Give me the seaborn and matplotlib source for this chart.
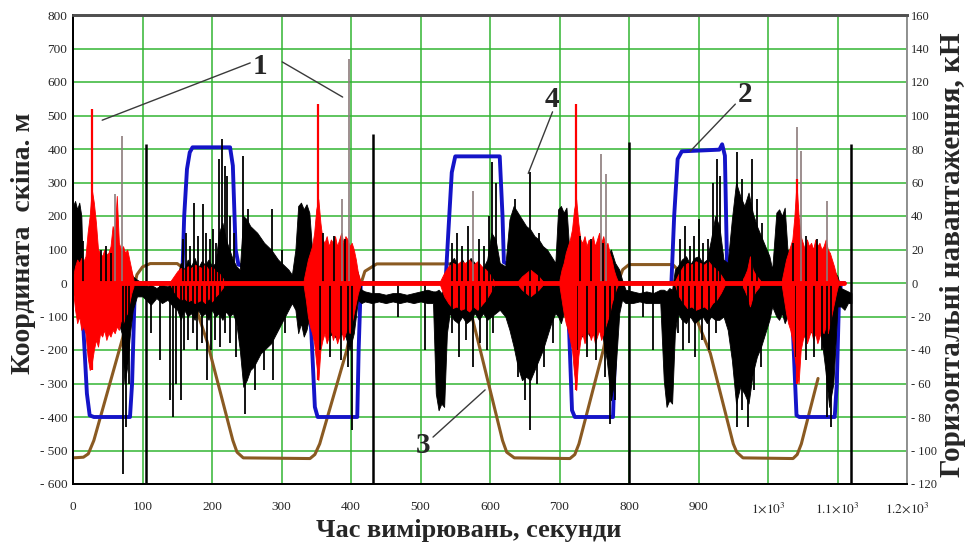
import matplotlib
matplotlib.use("Agg")
import matplotlib.pyplot as plt
import seaborn as sns
import pandas as pd

# ---------------- data ----------------
# 2: skip coordinate, m (left axis)
blue_x = [0, 10, 14, 20, 24, 30, 82, 85, 89, 95, 157, 160, 164, 168, 172, 226, 230, 234, 238, 246, 250, 256, 262,
          338, 343, 348, 352, 409, 411, 414, 418, 536, 540, 545, 550, 614, 618, 620, 628, 632, 638,
          710, 714, 718, 722, 777, 780, 783, 790, 861, 865, 870, 876, 930, 934, 938, 941, 950, 954, 958,
          1033, 1037, 1041, 1045, 1096, 1099, 1102, 1105, 1110]
blue_y = [0, 0, -100, -330, -395, -400, -400, -300, -10, 0, 0, 200, 340, 390, 405, 405, 350, 100, 55, 50, 25, 5, 0,
          0, -150, -370, -400, -400, -200, -5, 0, 0, 150, 330, 378, 378, 200, 62, 55, 20, 0,
          0, -150, -380, -400, -400, -200, -5, 0, 0, 200, 370, 393, 398, 414, 380, 61, 50, 30, 0,
          0, -200, -395, -400, -400, -300, -60, 0, 0]

# 3: second skip coordinate, m (left axis)
brown_x = [0, 15, 22, 30, 72, 85, 92, 100, 111, 150, 158, 165, 193, 230, 236, 245, 341, 348, 355, 394, 410, 420,
           437, 548, 556, 562, 586, 618, 624, 635, 715, 722, 728, 763, 780, 791, 800, 863, 870, 876, 917, 950,
           955, 964, 1036, 1042, 1048, 1072]
brown_y = [-522, -520, -510, -470, -160, -40, 25, 48, 58, 58, 45, 0, -175, -470, -505, -522, -524, -512, -480,
           -200, -30, 35, 57, 57, 40, 0, -200, -470, -505, -522, -524, -512, -480, -200, -20, 40, 55, 55, 40, 0,
           -210, -480, -505, -522, -524, -512, -480, -285]

# 4: horizontal load, kN (right axis) - dense core of the black trace
black_x = [0, 3, 6, 9, 12, 14, 20, 28, 36, 44, 52, 60, 66, 70, 74, 78, 82, 86, 92, 100,
           105, 112, 120, 128, 136, 144, 150,
           155, 160, 165, 170, 175, 180, 185, 190, 195, 200, 205, 210, 215, 220, 225, 230, 235, 240,
           245, 250, 255, 260, 265, 270, 275, 280, 285, 290, 295, 300, 305, 310, 315,
           320, 324, 328, 332, 336, 340, 344,
           350, 356, 362, 368, 374, 380, 386, 392, 398, 404, 410,
           415, 420, 430, 440, 450, 460, 470, 480, 490, 500, 510, 518,
           522, 526, 530, 534, 538,
           542, 548, 554, 560, 566, 572, 578, 584, 590, 596, 602, 608, 614,
           622, 628, 634, 640, 646, 652, 658, 664, 670, 676, 682, 688, 694,
           698, 702, 706, 710, 714,
           720, 726, 732, 738, 744, 750, 756, 762, 768, 774, 780, 786, 790,
           795, 805, 815, 825, 835, 845,
           850, 854, 858, 862, 866,
           870, 876, 882, 888, 894, 900, 906, 912, 918, 924, 930, 936,
           942, 948, 954, 960, 966, 972, 978, 984, 990, 996, 1002, 1006,
           1012, 1016, 1020, 1024, 1028,
           1034, 1040, 1046, 1052, 1058, 1064, 1070, 1076, 1082, 1088, 1094, 1100,
           1105, 1110, 1115, 1120]
black_up = [46, 49, 44, 48, 40, 8, 6, 9, 7, 10, 8, 9, 10, 8, 10, 6, 8, 4, 2, 0,
            -2, -1, -3, -1, -2, 0, 4,
            12, 8, 14, 10, 15, 9, 13, 11, 14, 10, 12, 30, 36, 26, 20, 14, 10, 8,
            40, 38, 34, 32, 30, 27, 24, 22, 20, 17, 14, 12, 10, 8, 5,
            20, 46, 48, 44, 47, 42, 20,
            16, 20, 14, 18, 16, 20, 14, 18, 15, 12, 6,
            -4, -5, -6, -6, -7, -6, -6, -7, -6, -5, -4, -5,
            -5, -4, -6, -4, 0,
            12, 15, 10, 14, 9, 15, 12, 10, 9, 14, 30, 26, 12,
            10, 38, 46, 42, 38, 34, 32, 28, 26, 22, 20, 16, 12,
            44, 46, 42, 45, 20,
            16, 20, 14, 18, 16, 12, 18, 14, 16, 20, 12, 8, 2,
            -4, -5, -6, -5, -6, -4,
            -4, -5, -3, -4, 8,
            10, 14, 16, 11, 15, 16, 12, 14, 26, 40, 34, 14,
            12, 38, 60, 52, 46, 54, 42, 34, 28, 22, 16, 8,
            42, 44, 40, 45, 20,
            16, 18, 14, 17, 15, 18, 13, 16, 12, 10, 8, 4,
            -3, -4, -5, -6]
black_lo = [-2, 0, -3, -1, -5, -10, -18, -24, -20, -24, -22, -26, -24, -30, -60, -50, -30, -16, -8, -8,
            -10, -13, -9, -12, -10, -14, -16,
            -22, -16, -20, -18, -22, -16, -20, -18, -22, -16, -20, -18, -22, -17, -20, -18, -24, -40,
            -62, -58, -52, -50, -46, -42, -40, -38, -36, -32, -28, -24, -20, -16, -12,
            -16, -30, -24, -32, -28, -20, -18,
            -26, -30, -28, -32, -30, -34, -30, -32, -40, -30, -10,
            -12, -11, -12, -11, -12, -11, -12, -11, -12, -11, -12, -12,
            -66, -76, -72, -74, -30,
            -18, -22, -24, -20, -24, -22, -18, -22, -18, -22, -20, -18, -16,
            -20, -28, -38, -50, -58, -56, -58, -52, -46, -40, -32, -24, -18,
            -20, -24, -18, -22, -20,
            -28, -26, -32, -28, -32, -30, -26, -32, -46, -70, -56, -18, -10,
            -12, -12, -11, -12, -12, -12,
            -58, -74, -70, -72, -30,
            -18, -22, -24, -20, -24, -22, -20, -24, -20, -22, -22, -20,
            -28, -46, -72, -62, -66, -72, -54, -44, -38, -30, -22, -14,
            -20, -22, -18, -24, -20,
            -26, -30, -28, -32, -28, -30, -26, -30, -50, -74, -60, -14,
            -14, -16, -12, -12]

# black spikes reaching up (x, top kN) and down (x, bottom kN)
black_up_spike_x = [14, 40, 48, 55, 158, 163, 168, 174, 180, 187, 192, 197, 202, 206, 210, 214, 218, 222, 226,
                    232, 245, 252, 286, 300, 360, 375, 392, 545, 552, 560, 568, 584, 592, 598, 603, 608,
                    636, 658, 670, 730, 745, 762, 874, 881, 888, 894, 900, 906, 914, 921, 926, 931,
                    956, 963, 977, 984, 992, 1036, 1055, 1070]
black_up_spike_top = [25, 20, 22, 18, 26, 30, 22, 48, 28, 47, 30, 26, 32, 24, 74, 86, 70, 64, 40,
                      30, 76, 44, 44, 20, 30, 28, 26, 24, 30, 22, 34, 26, 22, 40, 72, 60,
                      50, 66, 30, 28, 26, 24, 26, 34, 22, 28, 38, 24, 26, 60, 74, 64,
                      78, 62, 74, 50, 36, 24, 28, 26]
black_down_spike_x = [72, 76, 80, 112, 125, 140, 144, 148, 155, 160, 166, 172, 178, 185, 193, 199, 205, 212,
                      218, 226, 234, 248, 262, 275, 288, 305, 355, 370, 385, 395, 401, 468, 506,
                      545, 555, 565, 575, 585, 595, 605, 640, 650, 658, 668, 678, 690,
                      725, 740, 752, 765, 773, 780, 820, 835, 870, 878, 886, 895, 905, 915, 925,
                      955, 963, 971, 980, 990, 1040, 1055, 1066, 1078, 1085, 1090]
black_down_spike_bot = [-114, -86, -60, -30, -46, -70, -80, -60, -70, -40, -34, -30, -40, -36, -58, -40, -34, -38,
                        -30, -36, -44, -78, -64, -52, -58, -30, -40, -44, -46, -50, -88, -20, -40,
                        -30, -44, -34, -50, -36, -40, -30, -56, -70, -88, -60, -50, -36,
                        -40, -44, -46, -56, -84, -70, -20, -40, -30, -40, -36, -44, -34, -40, -30,
                        -86, -76, -86, -64, -50, -44, -46, -44, -40, -80, -86]
# long black vertical strokes between cycles (x, top kN), running from the bottom of the axis
black_line_x = [105, 431, 800, 1120]
black_line_top = [83, 89, 84, 83]

# 1: horizontal load, kN (right axis) - red bursts (upper / lower envelope)
red1_x = [0, 3, 6, 9, 12, 15, 18, 21, 24, 27, 30, 33, 36, 39, 42, 45, 48, 51, 54, 57, 60, 63, 66, 69, 72, 75, 78, 81, 84, 87]
red1_up = [4, 10, 14, 12, 15, 13, 16, 30, 40, 56, 48, 36, 20, 18, 16, 20, 17, 18, 22, 34, 30, 52, 24, 20, 22, 18, 20, 14, 8, 2]
red1_lo = [-4, -16, -24, -20, -28, -26, -30, -44, -52, -48, -40, -34, -38, -30, -32, -28, -34, -30, -32, -28, -30, -26, -28, -22, -24, -20, -18, -12, -6, -2]
red2_x = [140, 145, 150, 155, 160, 165, 170, 175, 180, 185, 190, 195, 200, 205, 210, 215, 220]
red2_up = [1, 4, 7, 9, 8, 10, 9, 11, 10, 9, 11, 8, 10, 7, 6, 3, 1]
red2_lo = [-1, -5, -8, -10, -9, -11, -10, -12, -11, -10, -12, -9, -11, -8, -6, -3, -1]
red3_x = [332, 335, 338, 341, 344, 347, 350, 353, 356, 359, 362, 365, 368, 371, 374, 377, 380, 383, 386, 389, 392, 395, 398, 401, 404, 407, 410, 413]
red3_up = [2, 8, 14, 18, 22, 30, 44, 50, 36, 26, 24, 28, 22, 26, 24, 28, 22, 26, 30, 24, 28, 26, 22, 24, 20, 14, 6, 2]
red3_lo = [-2, -10, -20, -26, -30, -36, -48, -58, -40, -34, -30, -36, -32, -28, -34, -30, -36, -32, -28, -34, -30, -26, -30, -24, -18, -12, -6, -2]
red4_x = [528, 534, 540, 546, 552, 558, 564, 570, 576, 582, 588, 594, 600, 606]
red4_up = [1, 6, 10, 12, 11, 13, 12, 14, 11, 13, 10, 8, 5, 1]
red4_lo = [-1, -8, -12, -15, -14, -16, -15, -17, -14, -16, -13, -10, -6, -1]
red4b_x = [640, 646, 652, 658, 664, 670, 676]
red4b_up = [1, 4, 6, 8, 6, 4, 1]
red4b_lo = [-1, -4, -6, -8, -6, -4, -1]
red5_x = [700, 703, 706, 709, 712, 715, 718, 721, 724, 727, 730, 733, 736, 739, 742, 745, 748, 751, 754, 757, 760, 763, 766, 769, 772, 775, 778, 781, 784]
red5_up = [2, 8, 12, 18, 22, 26, 32, 44, 50, 36, 26, 24, 28, 22, 26, 24, 28, 22, 26, 30, 24, 28, 22, 24, 18, 14, 8, 4, 1]
red5_lo = [-2, -10, -18, -24, -28, -34, -40, -54, -64, -44, -34, -30, -36, -32, -28, -34, -30, -36, -32, -28, -34, -30, -26, -22, -18, -12, -8, -4, -1]
red6_x = [866, 872, 878, 884, 890, 896, 902, 908, 914, 920, 926, 932, 938]
red6_up = [1, 6, 10, 12, 11, 13, 12, 11, 13, 10, 8, 5, 1]
red6_lo = [-1, -8, -12, -15, -14, -16, -15, -14, -16, -12, -10, -6, -1]
red6b_x = [962, 966, 970, 974, 978, 982, 986, 990]
red6b_up = [1, 4, 8, 16, 8, 5, 3, 1]
red6b_lo = [-1, -4, -8, -14, -8, -5, -3, -1]
red7_x = [1020, 1023, 1026, 1029, 1032, 1035, 1038, 1041, 1044, 1047, 1050, 1053, 1056, 1059, 1062, 1065, 1068, 1071, 1074, 1077, 1080, 1083, 1086, 1089, 1092, 1095, 1098, 1101]
red7_up = [2, 8, 14, 18, 22, 26, 40, 60, 40, 28, 24, 20, 26, 22, 24, 20, 26, 22, 24, 20, 22, 26, 20, 18, 14, 10, 5, 1]
red7_lo = [-2, -10, -18, -24, -28, -34, -44, -52, -60, -40, -34, -30, -36, -32, -28, -34, -30, -36, -32, -28, -30, -26, -30, -24, -18, -12, -6, -1]
red_base_x = [0, 1110]
red_base_y = [0, 0]

red_spike_x = [28, 352, 724, 1042]
red_spike_top = [104, 107, 107, 62]
red_spike_bot = [-52, -58, -64, -60]
gray_spike_x = [28, 60, 70, 387, 397, 576, 759, 767, 1042, 1048, 1085]
gray_spike_top = [104, 53, 88, 50, 134, 55, 77, 65, 93, 79, 49]

x_ticks = list(range(0, 1201, 100))
x_tick_labels = ["0", "100", "200", "300", "400", "500", "600", "700", "800", "900",
                 r"$1{\times}10^{3}$", r"$1.1{\times}10^{3}$", r"$1.2{\times}10^{3}$"]
y_ticks = list(range(-600, 801, 100))
y_tick_labels = ["- 600", "- 500", "- 400", "- 300", "- 200", "- 100", "0", "100", "200", "300",
                 "400", "500", "600", "700", "800"]
y2_ticks = list(range(-120, 161, 20))
y2_tick_labels = ["- 120", "- 100", "- 80", "- 60", "- 40", "- 20", "0", "20", "40", "60", "80",
                  "100", "120", "140", "160"]

# ---------------- drawing ----------------
sns.set_theme(style="white")
plt.rcParams['font.family'] = ['Liberation Serif', 'DejaVu Serif']
plt.rcParams['mathtext.fontset'] = 'stix'

W, H = 968, 558
fig = plt.figure(figsize=(W / 100, H / 100), dpi=100)
ax = fig.add_axes([73 / W, 1 - 484 / H, (907 - 73) / W, (484 - 15) / H])
ax.set_xlim(0, 1200)
ax.set_ylim(-600, 800)
ax.set_xticks(x_ticks)
ax.set_xticklabels(x_tick_labels)
ax.set_yticks(y_ticks)
ax.set_yticklabels(y_tick_labels)
ax.grid(True, color="#33b533", lw=1.1)
ax.set_axisbelow(True)
ax.tick_params(axis="x", length=0, pad=12, labelsize=9.5)
ax.tick_params(axis="y", length=0, pad=4, labelsize=9.5)

df_blue = pd.DataFrame({"t": blue_x, "z": blue_y})
df_brown = pd.DataFrame({"t": brown_x, "z": brown_y})
sns.lineplot(data=df_brown, x="t", y="z", ax=ax, color="#8a5a22", lw=2.2, sort=False, estimator=None)
sns.lineplot(data=df_blue, x="t", y="z", ax=ax, color="#1414c8", lw=2.8, sort=False, estimator=None)
ax.set_xlabel("")
ax.set_ylabel("")

ax2 = ax.twinx()
ax2.set_ylim(-120, 160)
ax2.set_yticks(y2_ticks)
ax2.set_yticklabels(y2_tick_labels)
ax2.tick_params(axis="y", length=0, pad=3, labelsize=9)
ax2.grid(False)

# black trace
ax2.fill_between(black_x, black_lo, black_up, color="black", lw=0.6)
ax2.vlines(black_up_spike_x, 0, black_up_spike_top, color="black", lw=1.3)
ax2.vlines(black_down_spike_x, black_down_spike_bot, 0, color="black", lw=1.3)
ax2.vlines(black_line_x, -120, black_line_top, color="black", lw=1.8)

# gray thin spikes and red trace
ax2.vlines(gray_spike_x, 0, gray_spike_top, color="#8c7c7c", lw=1.2)
df_rb = pd.DataFrame({"t": red_base_x, "f": red_base_y})
sns.lineplot(data=df_rb, x="t", y="f", ax=ax2, color="#ff0000", lw=3.5, estimator=None)
for rx, ru, rl in [(red1_x, red1_up, red1_lo), (red2_x, red2_up, red2_lo), (red3_x, red3_up, red3_lo),
                   (red4_x, red4_up, red4_lo), (red4b_x, red4b_up, red4b_lo), (red5_x, red5_up, red5_lo),
                   (red6_x, red6_up, red6_lo), (red6b_x, red6b_up, red6b_lo), (red7_x, red7_up, red7_lo)]:
    ax2.fill_between(rx, rl, ru, color="#ff0000", lw=0.6)
ax2.vlines(red_spike_x, red_spike_bot, red_spike_top, color="#ff0000", lw=1.6)
ax2.set_xlabel("")
ax2.set_ylabel("")

# spines
for a in (ax, ax2):
    a.spines["left"].set_color("black")
    a.spines["bottom"].set_color("black")
    a.spines["top"].set_color("#505050")
    a.spines["right"].set_color("#909090")
    a.spines["left"].set_linewidth(1.4)
    a.spines["bottom"].set_linewidth(1.4)
    a.spines["top"].set_linewidth(2.0)
    a.spines["right"].set_linewidth(1.2)

# numbered leaders (left-axis data coordinates)
lead = dict(color="#3a3a3a", lw=1.0, transform=ax.transData)
ax2.plot([255, 42], [657, 486], **lead)
ax2.plot([301, 388], [660, 555], **lead)
ax2.plot([690, 655], [511, 327], **lead)
ax2.plot([953, 888], [534, 393], **lead)
ax2.plot([518, 593], [-460, -319], **lead)
num = dict(fontsize=21, fontweight="bold", ha="center", va="center", transform=ax.transData)
ax2.text(269, 645, "1", **num)
ax2.text(689, 549, "4", **num)
ax2.text(967, 564, "2", **num)
ax2.text(504, -484, "3", **num)

fig.text(24 / W, 1 - 243 / H, "Координата  скіпа. м", rotation=90, ha="center", va="center",
         fontsize=20, fontweight="bold")
fig.text(952 / W, 1 - 255 / H, "Горизонтальні навантаження, кН", rotation=90, ha="center", va="center",
         fontsize=21, fontweight="bold")
fig.text(469 / W, 1 - 530 / H, "Час вимірювань, секунди", ha="center", va="center",
         fontsize=19, fontweight="bold")

fig.savefig("out.png", dpi=100)
